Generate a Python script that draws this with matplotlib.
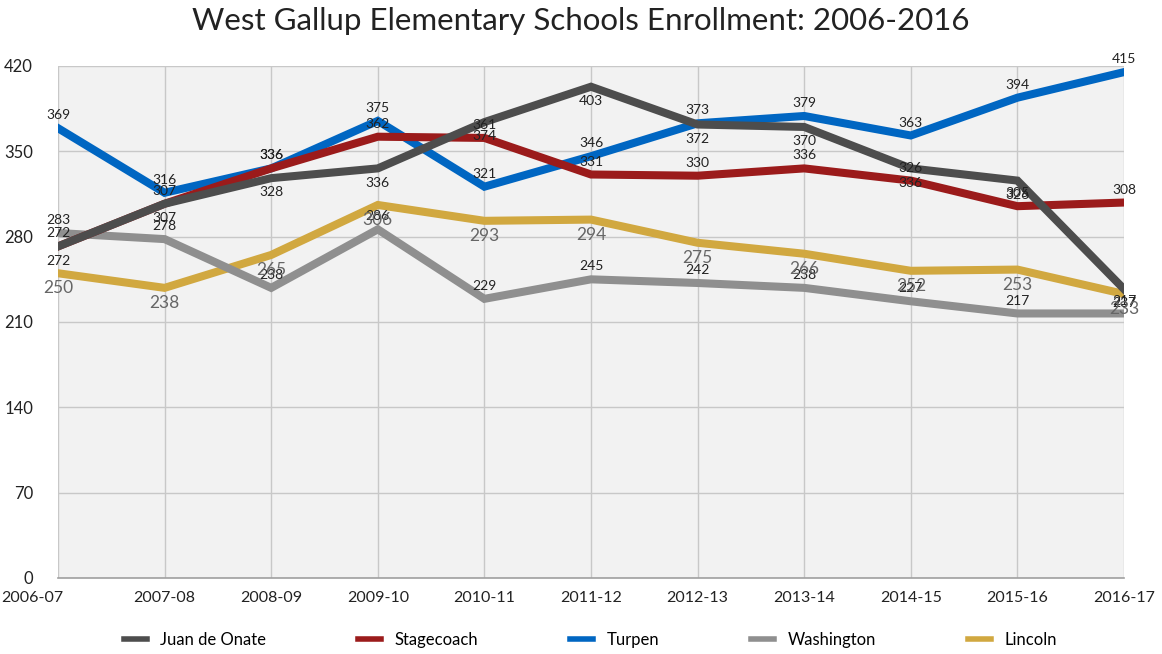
import matplotlib.pyplot as plt
import numpy as np

plt.rcParams['font.family'] = ['Lato', 'DejaVu Sans']

# data
years = ['2006-07', '2007-08', '2008-09', '2009-10', '2010-11', '2011-12',
         '2012-13', '2013-14', '2014-15', '2015-16', '2016-17']
juan = [272, 307, 328, 336, 374, 403, 372, 370, 336, 326, 237]
stagecoach = [272, 307, 336, 362, 361, 331, 330, 336, 326, 305, 308]
turpen = [369, 316, 336, 375, 321, 346, 373, 379, 363, 394, 415]
washington = [283, 278, 238, 286, 229, 245, 242, 238, 227, 217, 217]
lincoln = [250, 238, 265, 306, 293, 294, 275, 266, 252, 253, 233]

series = [
    ('Juan de Onate', juan, '#4d4d4d', 'below', 6),
    ('Stagecoach', stagecoach, '#9b1b1b', 'above', 5),
    ('Turpen', turpen, '#0066c2', 'above', 4),
    ('Washington', washington, '#8f8f8f', 'above', 3),
    ('Lincoln', lincoln, '#d1a840', 'below', 2),
]

fig = plt.figure(figsize=(11.62, 6.54), dpi=100)
ax = fig.add_axes([58 / 1162, 1 - 578 / 654, (1124 - 58) / 1162, (578 - 66) / 654])
ax.set_facecolor('#f2f2f2')

x = np.arange(len(years))
for name, vals, col, pos, z in series:
    ax.plot(x, vals, color=col, lw=5.8, label=name, zorder=z, solid_joinstyle='miter')
    for xi, v in zip(x, vals):
        if name == 'Lincoln':
            ax.annotate(str(v), (xi, v), xytext=(0, -5), textcoords='offset points',
                        ha='center', va='top', fontsize=12.5, color='#666666', zorder=10)
        elif pos == 'below':
            ax.annotate(str(v), (xi, v), xytext=(0, -6), textcoords='offset points',
                        ha='center', va='top', fontsize=10, color='#222222', zorder=10)
        else:
            ax.annotate(str(v), (xi, v), xytext=(0, 5), textcoords='offset points',
                        ha='center', va='bottom', fontsize=10, color='#222222', zorder=10)

ax.set_xlim(0, len(years) - 1)
ax.set_ylim(0, 420)
ax.set_yticks(np.arange(0, 421, 70))
ax.set_xticks(x)
# first category label sits inside the figure, drawn separately below
ax.set_xticklabels([''] + years[1:])
ax.annotate(years[0], xy=(x[0], 0), xycoords=('data', 'axes fraction'),
            xytext=(4, -9), textcoords='offset points', ha='right', va='top',
            fontsize=11.5, color='#222222')
ax.grid(True, color='#c8c8c8', lw=1)
ax.set_axisbelow(True)
for s in ['top', 'right', 'left']:
    ax.spines[s].set_visible(False)
ax.spines['bottom'].set_color('#a0a0a0')
ax.spines['bottom'].set_linewidth(1.2)
ax.tick_params(axis='both', length=0, labelsize=12, colors='#222222')
ax.tick_params(axis='x', labelsize=11.5)
ax.tick_params(axis='y', pad=18)
ax.tick_params(axis='x', pad=9)

fig.suptitle('West Gallup Elementary Schools Enrollment: 2006-2016', y=0.99,
             fontsize=22.5, color='#222222')

handles, labels = ax.get_legend_handles_labels()
fig.legend(handles, labels, loc='center', bbox_to_anchor=(0.508, 1 - 640 / 654), ncol=5,
           frameon=False, fontsize=12, handlelength=1.4, columnspacing=5.5,
           handletextpad=0.8)
for h in fig.legends[0].get_lines():
    h.set_linewidth(4)

fig.savefig('out.png', dpi=100)
